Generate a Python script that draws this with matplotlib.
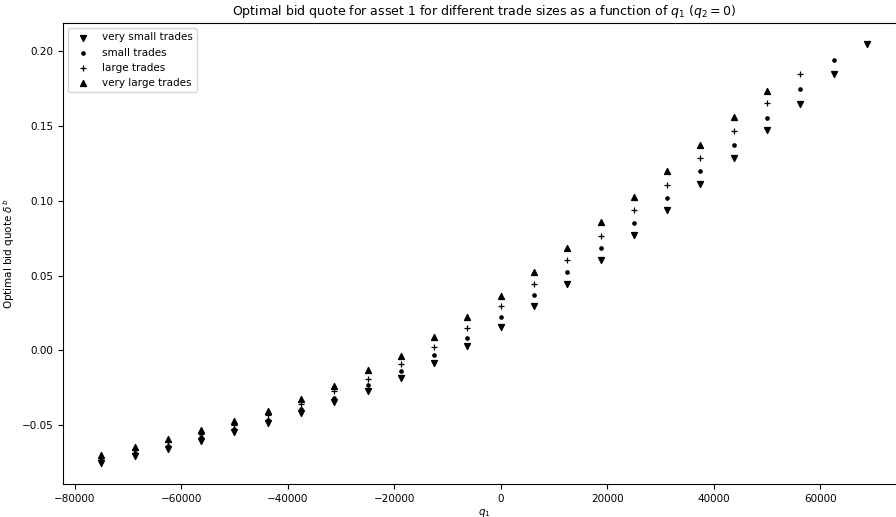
import numpy as np
import matplotlib
matplotlib.use("Agg")
import matplotlib.pyplot as plt

# inventory grid for asset 1
q1 = np.arange(-75000, 68751, 6250)

# optimal bid quotes, one list per trade size
very_small = [-0.0753, -0.0704, -0.0657, -0.0604, -0.0548, -0.0486, -0.0419, -0.0348,
              -0.0274, -0.0185, -0.0085, 0.0027, 0.0154, 0.0294, 0.0445, 0.0606,
              0.0769, 0.0938, 0.1110, 0.1283, 0.1471, 0.1649, 0.1843, 0.2047]
small = [-0.0735, -0.0688, -0.0637, -0.0582, -0.0523, -0.0463, -0.0390, -0.0319,
         -0.0234, -0.0136, -0.0033, 0.0082, 0.0221, 0.0368, 0.0523, 0.0686,
         0.0851, 0.1021, 0.1195, 0.1370, 0.1553, 0.1743, 0.1941]
large = [-0.0720, -0.0668, -0.0613, -0.0559, -0.0497, -0.0430, -0.0356, -0.0274,
         -0.0192, -0.0089, 0.0022, 0.0149, 0.0294, 0.0443, 0.0604, 0.0767,
         0.0936, 0.1108, 0.1283, 0.1464, 0.1653, 0.1847]
very_large = [-0.0697, -0.0646, -0.0593, -0.0535, -0.0473, -0.0403, -0.0326, -0.0241,
              -0.0134, -0.0035, 0.0087, 0.0221, 0.0366, 0.0521, 0.0684, 0.0856,
              0.1023, 0.1197, 0.1375, 0.1557, 0.1736]

fig = plt.figure(figsize=(8.96, 5.17), dpi=100)
ax = fig.add_axes([0.0703, 0.0638, 0.94, 0.8917])

ax.scatter(q1[:len(very_small)], very_small, marker='v', color='black', s=18, label='very small trades')
ax.scatter(q1[:len(small)], small, marker='.', color='black', s=22, label='small trades')
ax.scatter(q1[:len(large)], large, marker='+', color='black', s=20, linewidths=0.9, label='large trades')
ax.scatter(q1[:len(very_large)], very_large, marker='^', color='black', s=18, label='very large trades')

ax.set_title(r'Optimal bid quote for asset 1 for different trade sizes as a function of $q_1$ ($q_2 = 0$)', fontsize=9)
ax.set_xlabel(r'$q_1$', fontsize=7.5, labelpad=2)
ax.set_ylabel(r'Optimal bid quote $\delta^b$', fontsize=7.5)
ax.yaxis.set_label_coords(-0.055, 0.5)
ax.tick_params(labelsize=7.5)
ax.legend(loc='upper left', fontsize=7.5, scatterpoints=1)

fig.savefig('out.png', dpi=100)
